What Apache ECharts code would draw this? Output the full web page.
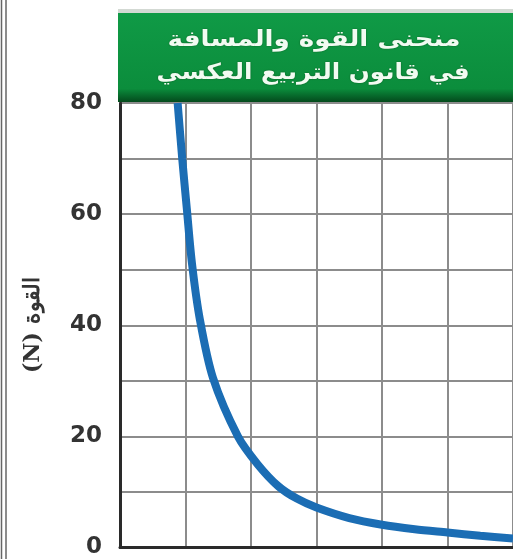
<!DOCTYPE html>
<html>
<head>
<meta charset="utf-8">
<script src="https://cdn.jsdelivr.net/npm/echarts@6/dist/echarts.min.js"></script>
<style>
html,body{margin:0;padding:0;background:#fff;}
#c{width:513px;height:559px;}
</style>
</head>
<body>
<div id="c"></div>
<script>
// Data
var titleLines = ['منحنى القوة والمسافة', 'في قانون التربيع العكسي'];
var yAxisName = '(N) القوة';
var yTicks = [0, 20, 40, 60, 80];
var distance = [0.88, 0.95, 1.02, 1.10, 1.22, 1.42, 1.80, 2.1, 2.42, 2.7, 3.0, 3.5, 4.0, 4.5, 5.0, 5.5, 6.0];
var force =    [80,   70,   61,   51,   41,   30.5, 20,   15,  11,   8.8, 7.2, 5.3, 4.1, 3.3, 2.7, 2.1, 1.6];

var points = distance.map(function (d, i) { return [d, force[i]]; });

var chart = echarts.init(document.getElementById('c'), null, {renderer: 'canvas'});
chart.setOption({
  backgroundColor: '#ffffff',
  animation: false,
  grid: {left: 120, right: -3, top: 103, bottom: 9, containLabel: false},
  xAxis: {
    type: 'value', min: 0, max: 6, interval: 1,
    axisLine: {show: true, onZero: false, lineStyle: {color: '#2a2a2a', width: 3}},
    axisTick: {show: false},
    axisLabel: {show: false},
    splitLine: {show: true, lineStyle: {color: '#8c8c8c', width: 2}}
  },
  yAxis: {
    type: 'value', min: 0, max: 80, interval: 10,
    name: yAxisName, nameLocation: 'middle', nameGap: 76, nameRotate: 90,
    nameTextStyle: {fontFamily: 'DejaVu Serif', fontSize: 22, color: '#333', fontWeight: 'bold'},
    axisLine: {show: true, lineStyle: {color: '#2a2a2a', width: 3}},
    axisTick: {show: false},
    axisLabel: {
      margin: 18, fontSize: 23, color: '#333', fontFamily: 'DejaVu Sans', fontWeight: 'bold',
      formatter: function (v) { return yTicks.indexOf(v) >= 0 ? String(v) : ''; }
    },
    splitLine: {show: true, lineStyle: {color: '#8c8c8c', width: 2}}
  },
  series: [{
    type: 'line', data: points, smooth: 0.3, showSymbol: false,
    lineStyle: {color: '#1b6db4', width: 8}, clip: true
  }],
  graphic: [
    {type: 'line', shape: {x1: 1.5, y1: 0, x2: 1.5, y2: 559}, style: {stroke: '#666', lineWidth: 1.5}},
    {type: 'line', shape: {x1: 6, y1: 0, x2: 6, y2: 559}, style: {stroke: '#666', lineWidth: 1.5}},
    {type: 'rect', shape: {x: 118, y: 9, width: 400, height: 5}, style: {fill: '#d3d9d3'}, z: 10},
    {type: 'rect', shape: {x: 118, y: 13, width: 400, height: 89},
      style: {fill: new echarts.graphic.LinearGradient(0, 0, 0, 1, [
        {offset: 0, color: '#109a46'}, {offset: 0.85, color: '#0b8d3c'}, {offset: 0.93, color: '#07692b'}, {offset: 1, color: '#044a1c'}
      ])}, z: 10},
    {type: 'text', x: 314, y: 40, z: 11, scaleX: 1.19,
      style: {text: titleLines[0], fill: '#f2fbf2', fontSize: 22, fontWeight: 'bold', fontFamily: 'DejaVu Sans', align: 'center', verticalAlign: 'middle',
        textShadowColor: 'rgba(0,40,0,0.5)', textShadowBlur: 2}},
    {type: 'text', x: 313, y: 73, z: 11, scaleX: 1.12,
      style: {text: titleLines[1], fill: '#f2fbf2', fontSize: 22, fontWeight: 'bold', fontFamily: 'DejaVu Sans', align: 'center', verticalAlign: 'middle',
        textShadowColor: 'rgba(0,40,0,0.5)', textShadowBlur: 2}}
  ]
});
</script>
</body>
</html>
